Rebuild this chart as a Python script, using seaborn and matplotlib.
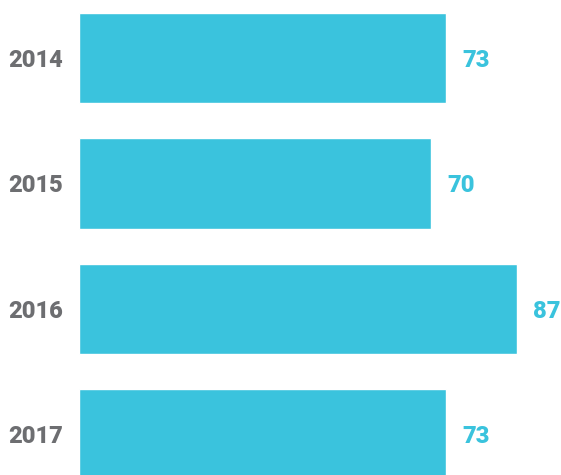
import matplotlib
matplotlib.use('Agg')
import matplotlib.pyplot as plt
import seaborn as sns
import pandas as pd

years = ['2014', '2015', '2016', '2017']
values = [73, 70, 87, 73]

bar_color = '#3ac3dd'
label_color = '#6d6e71'

sns.set_style('white')
plt.rcParams['font.family'] = ['Roboto', 'DejaVu Sans']

df = pd.DataFrame({'year': years, 'value': values})

fig = plt.figure(figsize=(5.61, 4.75), dpi=100)
ax = fig.add_axes([79 / 561, 0, 482 / 561, 1])
sns.barplot(data=df, x='value', y='year', orient='h', color=bar_color,
            width=0.72, saturation=1, ax=ax)

ax.set_xlim(0, 482 / 5.03)
ax.set_ylim(3.323, -0.462)
for i, v in enumerate(values):
    ax.annotate(str(v), (v, i), xytext=(11.5, 0), textcoords='offset points',
                ha='left', va='center_baseline', fontsize=17, fontweight='black',
                color=bar_color)

ax.set_xlabel('')
ax.set_ylabel('')
ax.set_xticks([])
ax.tick_params(axis='y', length=0, pad=11.5)
for t in ax.get_yticklabels():
    t.set_fontsize(17)
    t.set_fontweight('black')
    t.set_color(label_color)
    t.set_verticalalignment('center_baseline')
sns.despine(ax=ax, left=True, bottom=True)

fig.savefig('out.png', dpi=100)
